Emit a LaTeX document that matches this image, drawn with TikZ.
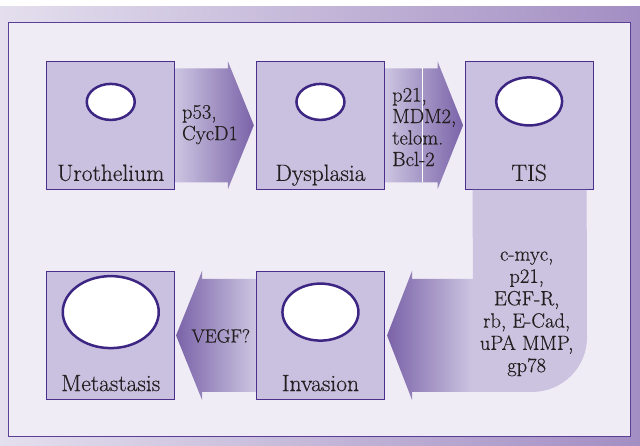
\documentclass[tikz,border=0pt]{standalone}
\usepackage{fontspec}
\setmainfont{Latin Modern Roman}[FakeBold=0.45]
\usepackage{tikz}
\usetikzlibrary{calc,positioning,shapes.geometric}
\definecolor{bgleft}{HTML}{E4DFEE}
\definecolor{bgright}{HTML}{A38EC3}
\definecolor{panel}{HTML}{EFECF6}
\definecolor{frameline}{HTML}{5B3E96}
\definecolor{boxfill}{HTML}{C9C1DF}
\definecolor{boxline}{HTML}{4B2F8C}
\definecolor{cellline}{HTML}{3D2683}
\definecolor{arrowdark}{HTML}{7A63A8}
\definecolor{arrowlight}{HTML}{CCC5E1}
\definecolor{bandfill}{HTML}{CBC3DF}
\definecolor{ink}{HTML}{231F20}
\tikzset{%
  sbox/.style={draw=boxline,fill=boxfill,line width=1.2pt,minimum width=128,minimum height=128,inner sep=0},
  cell/.style={draw=cellline,fill=white,shape=ellipse,line width=2.5pt,inner sep=0},
  slabel/.style={anchor=base,text=ink,font=\fontsize{23.5}{25}\selectfont,inner sep=0},
  glist/.style={text=ink,font=\fontsize{20.5}{21.5}\selectfont,inner sep=0},
  rarrow/.style={left color=arrowlight,right color=arrowdark},
  larrow/.style={left color=arrowdark,right color=arrowlight}
}
\begin{document}
\begin{tikzpicture}[x=1pt,y=-1pt]
    \useasboundingbox (0,0) rectangle (640,445);
    \fill[white] (0,0) rectangle (640,6);
    \shade[left color=bgleft,right color=bgright] (0,6) rectangle (640,445);
    \draw[frameline,fill=panel,line width=1.3pt] (8.5,22.5) rectangle (630.5,436.5);
    \node[sbox] (s_1) at (110.75,125.25) {};
    \node[sbox,right=80.5pt of s_1] (s_2) {};
    \node[sbox,right=79.5pt of s_2] (s_3) {};
    \node[sbox,below=81pt of s_2] (s_4) {};
    \node[sbox,below=81pt of s_1] (s_5) {};
    \node[cell,minimum width=48,minimum height=36,below=22pt of s_1.north] (c_1) {};
    \node[cell,minimum width=48,minimum height=36,below=22pt of s_2.north] (c_2) {};
    \node[cell,minimum width=66,minimum height=48,below=15.5pt of s_3.north] (c_3) {};
    \node[cell,minimum width=76,minimum height=57,below=11.5pt of s_4.north] (c_4) {};
    \node[cell,minimum width=96,minimum height=72,below=4pt of s_5.north] (c_5) {};
    \node[slabel] (l_1) at ($(s_1.south)+(0,-9)$) {Urothelium};
    \node[slabel] (l_2) at ($(s_2.south)+(0,-9)$) {Dysplasia};
    \node[slabel] (l_3) at ($(s_3.south)+(0,-9)$) {TIS};
    \node[slabel] (l_4) at ($(s_4.south)+(0,-9)$) {Invasion};
    \node[slabel] (l_5) at ($(s_5.south)+(0,-9)$) {Metastasis};
    \shade[rarrow] ($(s_1.east)+(0,-57)$) -- ++(52.5,0) -- ++(0,-7)
      -- ($(s_2.west)+(-2,0)$) -- ($(s_1.east)+(52.5,64)$) -- ++(0,-7)
      -- ($(s_1.east)+(0,57)$) -- cycle;
    \shade[rarrow] ($(s_2.east)+(0,-57)$) -- ++(52.5,0) -- ++(0,-7)
      -- ($(s_3.west)+(-1.5,0)$) -- ($(s_2.east)+(52.5,64)$) -- ++(0,-7)
      -- ($(s_2.east)+(0,57)$) -- cycle;
    \draw[white,line width=0.6pt] ($(s_2.east)+(37,-57)$) -- ++(0,114);
    \fill[bandfill] ($(s_3.south)+(-56.5,0)$) -- ($(s_4.east)+(88,56.5)$)
      -- ++(59,0) .. controls ++(30.4,0) and (587,367.4) .. (587,337.5)
      -- ($(s_3.south)+(57.5,0)$) -- cycle;
    \shade[larrow] ($(s_4.east)+(88,-56.5)$) -- ++(-61,0) -- ++(0,-8)
      -- ($(s_4.east)+(2,0)$) -- ($(s_4.east)+(27,64.5)$) -- ++(0,-8)
      -- ($(s_4.east)+(88,56.5)$) -- cycle;
    \shade[larrow] ($(s_4.west)+(0,-56.5)$) -- ($(s_5.east)+(26.7,-56.5)$) -- ++(0,-8)
      -- ($(s_5.east)+(0.7,0)$) -- ($(s_5.east)+(26.7,64.5)$) -- ++(0,-8)
      -- ($(s_4.west)+(0,56.5)$) -- cycle;
    \node[glist,anchor=north west,align=left] (g_1) at ($(s_1.east)+(6.5,-20.4)$) {p53,\\CycD1};
    \node[glist,anchor=north west,align=left] (g_2) at ($(s_2.east)+(7,-37.5)$) {p21,\\MDM2,\\telom.\\Bcl-2};
    \node[glist,anchor=north,align=center,font=\fontsize{20.5}{22.3}\selectfont] (g_3) at ($(s_3.south)+(-2.5,61.5)$) {c-myc,\\p21,\\EGF-R,\\rb, E-Cad,\\uPA MMP,\\gp78};
    \node[glist,font=\fontsize{19}{21}\selectfont] (g_4) at ($(s_4.west)+(-35,0.5)$) {VEGF?};
\end{tikzpicture}
\end{document}
